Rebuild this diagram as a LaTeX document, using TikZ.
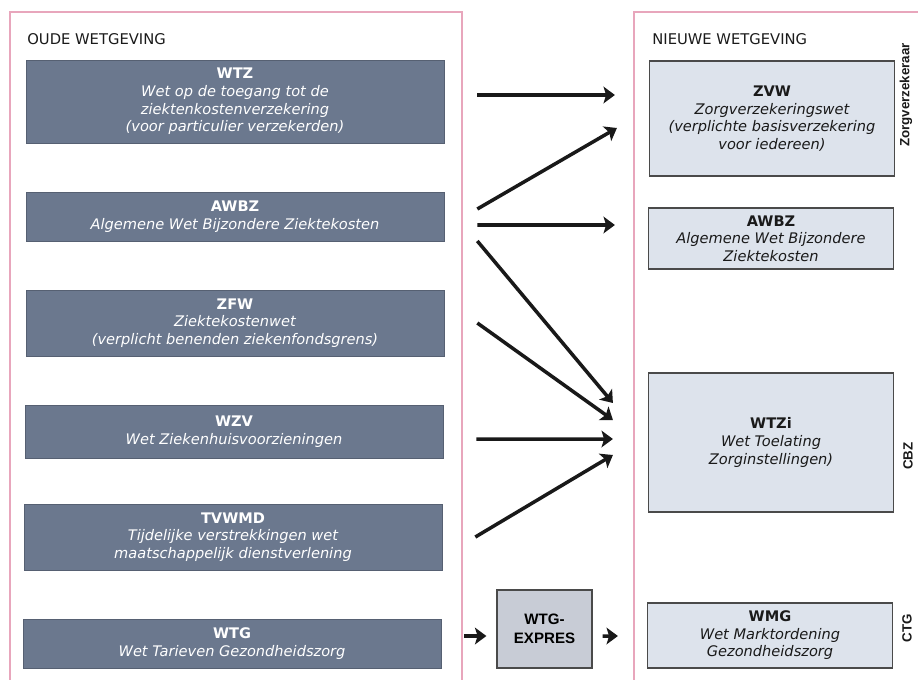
\documentclass[tikz,border=0pt]{standalone}
\usepackage{fontspec}
\setmainfont{DejaVu Sans}
\newfontfamily\labelfont{Liberation Sans}
\usepackage{xcolor}
\definecolor{panelPink}{HTML}{E8A6BC}
\definecolor{oldFill}{HTML}{6B788E}
\definecolor{newFill}{HTML}{DDE3EC}
\definecolor{expresFill}{HTML}{C8CCD6}
\definecolor{boxLine}{HTML}{4A4A4A}
\definecolor{darkText}{HTML}{1A1A1A}
\usetikzlibrary{arrows.meta, positioning, calc}

\begin{document}
\begin{tikzpicture}[
    x=0.02cm, y=-0.02cm,
    >={Stealth[length=6.5pt,width=9.5pt,inset=1.5pt]},
    panel/.style={
        draw=panelPink,
        line width=0.6pt
    },
    panelTitle/.style={
        anchor=base west,
        inner sep=0pt,
        text=darkText,
        font=\fontsize{8.4}{10}\selectfont
    },
    oldLaw/.style={
        rectangle,
        fill=oldFill,
        draw=oldFill!80!black,
        line width=0.4pt,
        text=white,
        minimum width=8.36cm,
        minimum height=#1,
        inner sep=0pt,
        align=center,
        font=\fontsize{8.3}{10}\selectfont\itshape
    },
    newLaw/.style={
        rectangle,
        fill=newFill,
        draw=boxLine,
        line width=0.7pt,
        text=darkText,
        minimum width=4.9cm,
        minimum height=#1,
        inner sep=0pt,
        align=center,
        font=\fontsize{8.3}{10}\selectfont\itshape
    },
    sideLabel/.style={
        rotate=90,
        inner sep=0pt,
        text=darkText,
        font=\labelfont\bfseries\fontsize{7.6}{9}\selectfont
    },
    flowArrow/.style={
        ->,
        line width=2pt,
        color=black!90
    }
]

\useasboundingbox (0,0) rectangle (918,679);

% Panels
\draw[panel] (10,700) |- (462,12) -- (462,700);
\draw[panel] (634,700) |- (940,12);
\node[panelTitle] (oldTitle) at (27,45) {OUDE WETGEVING};
\node[panelTitle] (newTitle) at (652,45) {NIEUWE WETGEVING};

% Old legislation
\node[oldLaw=1.66cm] (wtz) at (235,101.5) {{\upshape\bfseries WTZ}\\
    Wet op de toegang tot de\\ ziektenkostenverzekering\\ (voor particulier verzekerden)};
\node[oldLaw=0.98cm] (awbzOld) at (235,216.5) {{\upshape\bfseries AWBZ}\\
    Algemene Wet Bijzondere Ziektekosten};
\node[oldLaw=1.32cm] (zfw) at (235,323) {{\upshape\bfseries ZFW}\\
    Ziektekostenwet\\ (verplicht benenden ziekenfondsgrens)};
\node[oldLaw=1.06cm] (wzv) at (234,431.5) {{\upshape\bfseries WZV}\\
    Wet Ziekenhuisvoorzieningen};
\node[oldLaw=1.32cm] (tvwmd) at (233,537) {{\upshape\bfseries TVWMD}\\
    Tijdelijke verstrekkingen wet\\ maatschappelijk dienstverlening};
\node[oldLaw=0.98cm] (wtg) at (232,643.5) {{\upshape\bfseries WTG}\\
    Wet Tarieven Gezondheidszorg};

% New legislation
\node[newLaw=2.3cm] (zvw) at (772,118.5) {{\upshape\bfseries ZVW}\\
    Zorgverzekeringswet\\ (verplichte basisverzekering\\ voor iedereen)};
\node[newLaw=1.22cm] (awbzNew) at (771,238.5) {{\upshape\bfseries AWBZ}\\
    Algemene Wet Bijzondere\\ Ziektekosten};
\node[newLaw=2.78cm] (wtzi) at (771,442.5) {{\upshape\bfseries WTZi}\\
    Wet Toelating\\ Zorginstellingen)};
\node[newLaw=1.3cm] (wmg) at (770,635.5) {{\upshape\bfseries WMG}\\
    Wet Marktordening\\ Gezondheidszorg};

% Intermediate step
\node[rectangle, fill=expresFill, draw=boxLine, line width=0.7pt,
    minimum width=1.9cm, minimum height=1.56cm, align=center,
    font=\labelfont\bfseries\fontsize{8.6}{10.5}\selectfont] (expres) at (544.5,629) {WTG-\\EXPRES};

% Supervisors
\node[sideLabel] (zorgverz) at (906,95) {Zorgverzekeraar};
\node[sideLabel] (cbz) at (908,456) {CBZ};
\node[sideLabel] (ctg) at (907,628) {CTG};

% Connecting Arrows
\draw[flowArrow] ($(wtz.east)+(33,-6.5)$) -- ($(zvw.west)+(-34,-23.5)$);
\draw[flowArrow] ($(awbzOld.east)+(33,-7.5)$) -- ($(zvw.west)+(-32,9.5)$);
\draw[flowArrow] ($(awbzOld.east)+(33,8.5)$) -- ($(awbzNew.west)+(-33,-13.5)$);
\draw[flowArrow] ($(awbzOld.east)+(33,24.5)$) -- ($(wtzi.west)+(-35,-39.5)$);
\draw[flowArrow] ($(zfw.east)+(33,0)$) -- ($(wtzi.west)+(-35,-22.5)$);
\draw[flowArrow] ($(wzv.east)+(33,7.5)$) -- ($(wtzi.west)+(-35,-3.5)$);
\draw[flowArrow] ($(tvwmd.east)+(33,0)$) -- ($(wtzi.west)+(-35,12.5)$);
\draw[flowArrow] ($(wtg.east)+(23,-7.5)$) -- ($(expres.west)+(-10,7)$);
\draw[flowArrow] ($(expres.east)+(10,7)$) -- ($(wmg.west)+(-29,0.5)$);

\end{tikzpicture}
\end{document}
